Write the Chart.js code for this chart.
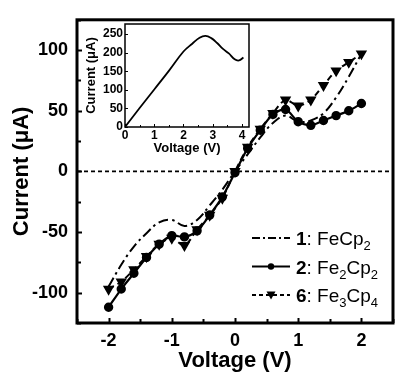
<!DOCTYPE html>
<html>
<head>
<meta charset="utf-8">
<script src="https://cdn.jsdelivr.net/npm/chart.js@4.4.0/dist/chart.umd.min.js"></script>
<style>
    html, body { margin: 0; padding: 0; background: #fff; overflow: hidden; }
    #wrap { position: relative; width: 400px; height: 377px; }
    #main { position: absolute; left: 0; top: 0; }
    #inset { position: absolute; left: 80px; top: 14px; }
</style>
</head>
<body>
<div id="wrap">
    <canvas id="main" width="400" height="377"></canvas>
    <canvas id="inset" width="174" height="146"></canvas>
</div>
<script>
(function () {
    'use strict';

    // main I-V curves, sampled every 0.2 V
    const voltage = [-2, -1.8, -1.6, -1.4, -1.2, -1, -0.8, -0.6, -0.4, -0.2, 0,
        0.2, 0.4, 0.6, 0.8, 1, 1.2, 1.4, 1.6, 1.8, 2];
    const feCp2 = [-95, -77, -62, -51, -42, -40, -45, -40, -28, -15, 0,
        14, 28, 40, 46, 41, 42, 48, 61, 78, 97];
    const fe2Cp2 = [-112, -97, -84, -71, -60, -53, -54, -49, -36, -21, -1,
        19, 34, 47, 51, 41, 38, 42, 46, 50, 56];
    const fe3Cp4 = [-97, -91, -81, -70, -60, -55, -61, -48, -36, -22, 0,
        20, 35, 48, 59, 54, 59, 71, 83, 90, 97];

    const baselineX = [-2.5, 2.5];
    const baselineY = [0, 0];

    const xTicks = [-2.5, -2, -1.5, -1, -0.5, 0, 0.5, 1, 1.5, 2, 2.5];
    const xLabels = [-2, -1, 0, 1, 2];
    const yTicks = [-125, -100, -75, -50, -25, 0, 25, 50, 75, 100, 125];
    const yLabels = [-100, -50, 0, 50, 100];

    // inset curve
    const insetVoltage = [0, 0.5, 1, 1.5, 2, 2.3, 2.55, 2.75, 2.95, 3.15, 3.35, 3.55, 3.75, 3.9, 4.05];
    const insetCurrent = [0, 51, 101, 151, 203, 224, 240, 245, 239, 226, 210, 198, 182, 179, 187];
    const insetXTicks = [0, 0.5, 1, 1.5, 2, 2.5, 3, 3.5, 4];
    const insetXLabels = [0, 1, 2, 3, 4];
    const insetYTicks = [0, 50, 100, 150, 200, 250];

    const FONT = "'Liberation Sans', Arial, sans-serif";

    function points(xs, ys) {
        return xs.map(function (x, i) { return { x: x, y: ys[i] }; });
    }

    function fixedTicks(values) {
        return function (scale) {
            scale.ticks = values.map(function (v) { return { value: v }; });
        };
    }

    // inward tick marks and the closed frame
    const framePlugin = {
        id: 'frame',
        afterDraw: function (chart, args, opts) {
            const ctx = chart.ctx;
            const a = chart.chartArea;
            const sx = chart.scales.x;
            const sy = chart.scales.y;
            ctx.save();
            ctx.strokeStyle = '#000';
            ctx.lineWidth = opts.tickWidth;
            sx.ticks.forEach(function (t) {
                const len = opts.xMajor.indexOf(t.value) >= 0 ? opts.major : opts.minor;
                if (!len) {
                    return;
                }
                const px = Math.round(sx.getPixelForValue(t.value)) + 0.5;
                ctx.beginPath();
                ctx.moveTo(px, a.bottom);
                ctx.lineTo(px, a.bottom - len);
                ctx.stroke();
            });
            sy.ticks.forEach(function (t) {
                const len = opts.yMajor.indexOf(t.value) >= 0 ? opts.major : opts.minor;
                if (!len) {
                    return;
                }
                const py = Math.round(sy.getPixelForValue(t.value)) + 0.5;
                ctx.beginPath();
                ctx.moveTo(a.left, py);
                ctx.lineTo(a.left + len, py);
                ctx.stroke();
            });
            ctx.lineWidth = opts.border;
            ctx.strokeRect(a.left, a.top, a.right - a.left, a.bottom - a.top);
            ctx.restore();
        }
    };

    const legendItems = [
        { parts: [['1', true], [': FeCp'], ['2', false, true]], dash: [8, 3, 2, 3], marker: null },
        { parts: [['2', true], [': Fe'], ['2', false, true], ['Cp'], ['2', false, true]], dash: [], marker: 'circle' },
        { parts: [['6', true], [': Fe'], ['3', false, true], ['Cp'], ['4', false, true]], dash: [4, 3], marker: 'triangle' }
    ];

    const legendPlugin = {
        id: 'iccLegend',
        afterDraw: function (chart, args, opts) {
            const ctx = chart.ctx;
            ctx.save();
            legendItems.forEach(function (item, i) {
                const base = opts.top + i * opts.step;
                const ly = base - 7;
                ctx.strokeStyle = '#000';
                ctx.fillStyle = '#000';
                ctx.lineWidth = 2;
                ctx.setLineDash(item.dash);
                ctx.beginPath();
                ctx.moveTo(opts.x0, ly);
                ctx.lineTo(opts.x1, ly);
                ctx.stroke();
                ctx.setLineDash([]);
                const cx = (opts.x0 + opts.x1) / 2;
                if (item.marker === 'circle') {
                    ctx.beginPath();
                    ctx.arc(cx, ly, 3.2, 0, Math.PI * 2);
                    ctx.fill();
                } else if (item.marker === 'triangle') {
                    ctx.beginPath();
                    ctx.moveTo(cx - 4.5, ly - 3.5);
                    ctx.lineTo(cx + 4.5, ly - 3.5);
                    ctx.lineTo(cx, ly + 4.5);
                    ctx.closePath();
                    ctx.fill();
                }
                let tx = opts.textX;
                ctx.textBaseline = 'alphabetic';
                ctx.textAlign = 'left';
                item.parts.forEach(function (p) {
                    const bold = p[1];
                    const sub = p[2];
                    ctx.font = (bold ? 'bold ' : '') + (sub ? 13 : 19) + 'px ' + FONT;
                    ctx.fillText(p[0], tx, base + (sub ? 5 : 0));
                    tx += ctx.measureText(p[0]).width;
                });
            });
            ctx.restore();
        }
    };

    new Chart(document.getElementById('main'), {
        type: 'line',
        data: {
            datasets: [
                {
                    data: points(voltage, fe2Cp2),
                    borderColor: '#000', backgroundColor: '#000', borderWidth: 2.2,
                    pointRadius: 3.6, pointStyle: 'circle', tension: 0.3
                },
                {
                    data: points(voltage, fe3Cp4),
                    borderColor: '#000', backgroundColor: '#000', borderWidth: 2,
                    borderDash: [6, 4],
                    pointRadius: 4.6, pointStyle: 'triangle', pointRotation: 180, tension: 0.3
                },
                {
                    data: points(voltage, feCp2),
                    borderColor: '#000', borderWidth: 2,
                    borderDash: [10, 4, 2.5, 4],
                    pointRadius: 0, tension: 0.4
                },
                {
                    data: points(baselineX, baselineY),
                    borderColor: '#000', borderWidth: 1.8,
                    borderDash: [4, 3],
                    pointRadius: 0, tension: 0
                }
            ]
        },
        options: {
            responsive: false,
            animation: false,
            devicePixelRatio: 1,
            layout: { padding: { top: 13, right: 2, left: 0, bottom: 0 } },
            plugins: {
                legend: { display: false },
                tooltip: { enabled: false },
                frame: { tickWidth: 2, major: 5, minor: 4, border: 3, xMajor: xLabels, yMajor: yLabels },
                iccLegend: { x0: 252, x1: 290, textX: 296, top: 245, step: 28.5 }
            },
            scales: {
                x: {
                    type: 'linear', min: -2.5, max: 2.5,
                    afterBuildTicks: fixedTicks(xTicks),
                    afterFit: function (s) { s.height = 54; },
                    grid: { display: false, drawTicks: false },
                    border: { display: false },
                    ticks: {
                        color: '#000', padding: 7, maxRotation: 0, autoSkip: false,
                        font: { family: FONT, size: 18, weight: 'bold' },
                        callback: function (v) { return xLabels.indexOf(v) >= 0 ? String(v) : ''; }
                    },
                    title: {
                        display: true, text: 'Voltage (V)', color: '#000',
                        font: { family: FONT, size: 22, weight: 'bold' },
                        padding: { top: 0, bottom: 3 }
                    }
                },
                y: {
                    type: 'linear', min: -125, max: 125,
                    afterBuildTicks: fixedTicks(yTicks),
                    afterFit: function (s) { s.width = 77; },
                    grid: { display: false, drawTicks: false },
                    border: { display: false },
                    ticks: {
                        color: '#000', padding: 9, autoSkip: false,
                        font: { family: FONT, size: 18, weight: 'bold' },
                        callback: function (v) { return yLabels.indexOf(v) >= 0 ? String(v) : ''; }
                    },
                    title: {
                        display: true, text: 'Current (\u03bcA)', color: '#000',
                        font: { family: FONT, size: 22, weight: 'bold' },
                        padding: { top: 9, bottom: 0 }
                    }
                }
            }
        },
        plugins: [framePlugin, legendPlugin]
    });

    new Chart(document.getElementById('inset'), {
        type: 'line',
        data: {
            datasets: [{
                data: points(insetVoltage, insetCurrent),
                borderColor: '#000', borderWidth: 1.8,
                pointRadius: 0, tension: 0.4
            }]
        },
        options: {
            responsive: false,
            animation: false,
            devicePixelRatio: 1,
            layout: { padding: { top: 10, right: 5, left: 0, bottom: 0 } },
            plugins: {
                legend: { display: false },
                tooltip: { enabled: false },
                frame: { tickWidth: 1, major: 3, minor: 2, border: 1.5, xMajor: insetXLabels, yMajor: insetYTicks }
            },
            scales: {
                x: {
                    type: 'linear', min: 0, max: 4.24,
                    afterBuildTicks: fixedTicks(insetXTicks),
                    afterFit: function (s) { s.height = 33; },
                    grid: { display: false, drawTicks: false },
                    border: { display: false },
                    ticks: {
                        color: '#000', padding: 1, maxRotation: 0, autoSkip: false,
                        font: { family: FONT, size: 12, weight: 'bold' },
                        callback: function (v) { return insetXLabels.indexOf(v) >= 0 ? String(v) : ''; }
                    },
                    title: {
                        display: true, text: 'Voltage (V)', color: '#000',
                        font: { family: FONT, size: 13, weight: 'bold' },
                        padding: { top: 0, bottom: 4 }
                    }
                },
                y: {
                    type: 'linear', min: 0, max: 277,
                    afterBuildTicks: fixedTicks(insetYTicks),
                    afterFit: function (s) { s.width = 45; },
                    grid: { display: false, drawTicks: false },
                    border: { display: false },
                    ticks: {
                        color: '#000', padding: 2, autoSkip: false,
                        font: { family: FONT, size: 12, weight: 'bold' }
                    },
                    title: {
                        display: true, text: 'Current (\u03bcA)', color: '#000',
                        font: { family: FONT, size: 13, weight: 'bold' },
                        padding: { top: 4, bottom: 0 }
                    }
                }
            }
        },
        plugins: [framePlugin]
    });
})();
</script>
</body>
</html>
